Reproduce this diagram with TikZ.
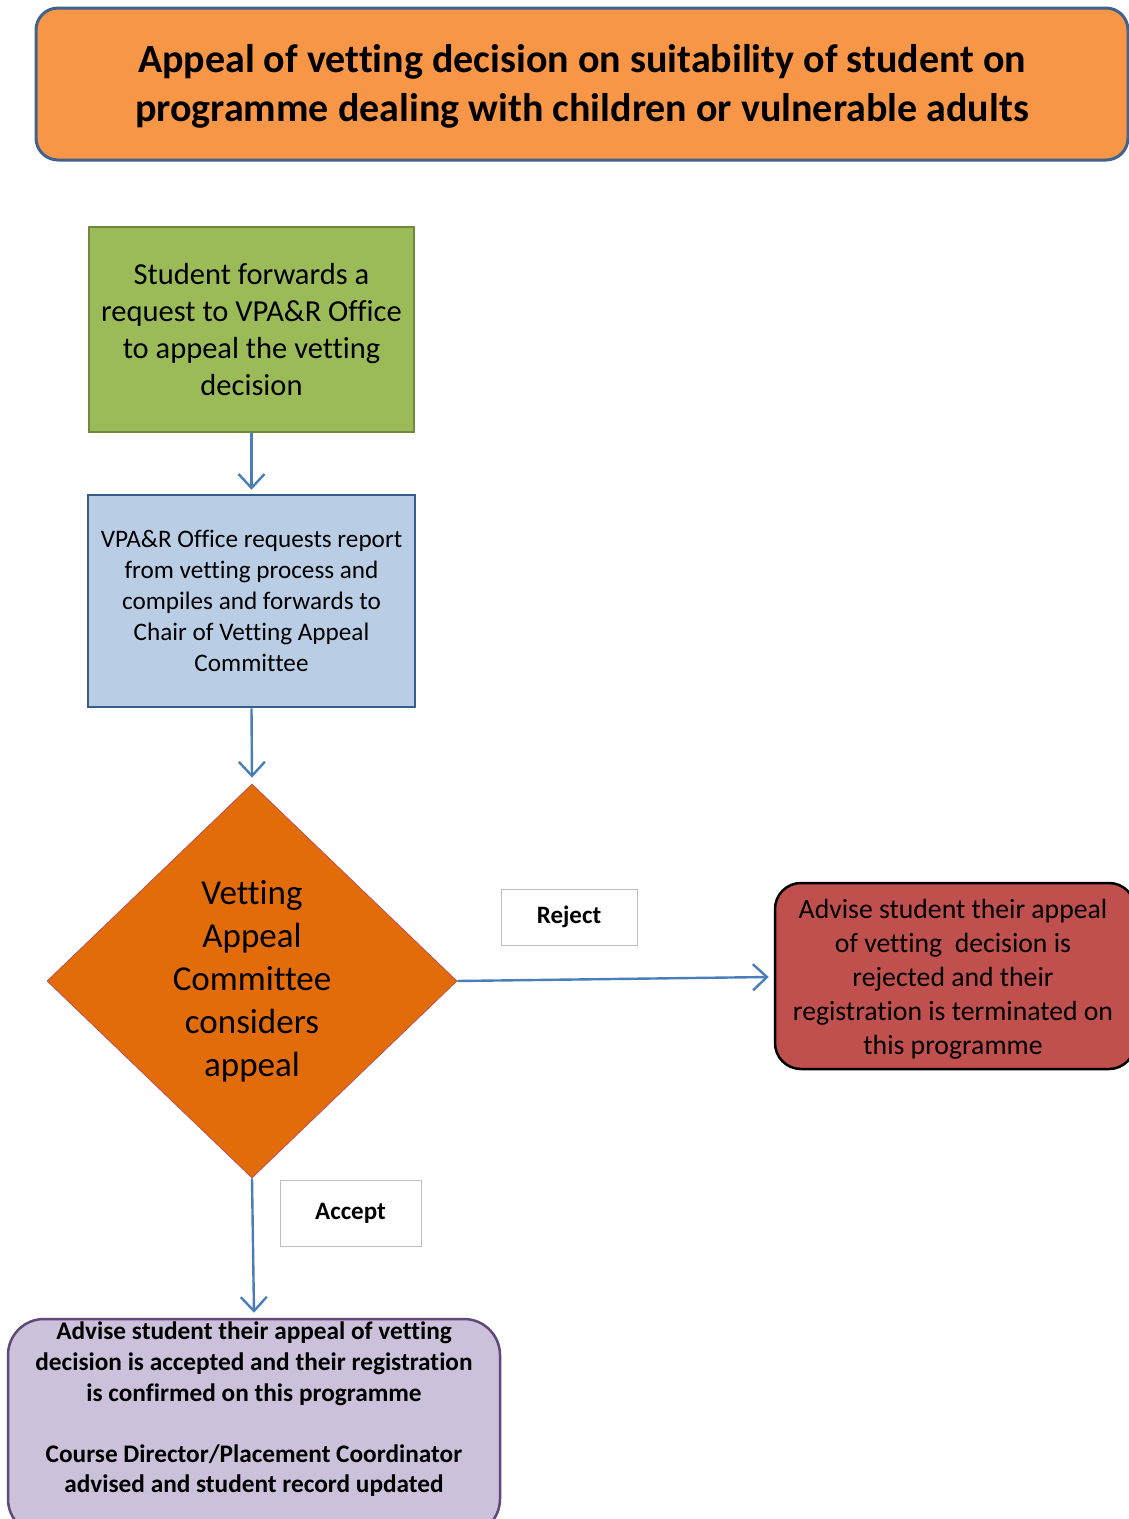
\documentclass[tikz,border=0pt]{standalone}
\usepackage{fontspec}
\setmainfont[Ligatures=NoCommon]{Carlito}
\usetikzlibrary{shapes.geometric,arrows.meta}
\definecolor{titlefill}{HTML}{F79646}
\definecolor{titleline}{HTML}{41628D}
\definecolor{greenfill}{HTML}{9BBB59}
\definecolor{greenline}{HTML}{71893F}
\definecolor{bluefill}{HTML}{B9CDE5}
\definecolor{blueline}{HTML}{385D8A}
\definecolor{diafill}{HTML}{E36C0A}
\definecolor{dialine}{HTML}{C0504D}
\definecolor{redfill}{HTML}{C0504D}
\definecolor{purfill}{HTML}{CCC1DA}
\definecolor{purline}{HTML}{5F497A}
\definecolor{arrowcol}{HTML}{4A7EBB}
\definecolor{labline}{HTML}{BFBFBF}
\tikzset{
  conn/.style={draw=arrowcol, line width=2.4pt, -{Straight Barb[length=14pt,width=26pt]}},
  procbox/.style={rectangle, line width=2.5pt, inner sep=0pt, align=center},
  lab/.style={rectangle, draw=labline, fill=white, line width=1pt, inner sep=0pt, align=center, font=\fontsize{25}{30}\selectfont\bfseries}
}
\begin{document}
\begin{tikzpicture}[x=1pt,y=-1pt]
\useasboundingbox (0,0) rectangle (1129,1519);
% title
\node[procbox, draw=titleline, fill=titlefill, rounded corners=22pt, line width=3pt,
  minimum width=1092pt, minimum height=152pt] (title) at (582,84) {};
\node[align=center, inner sep=0pt, font=\fontsize{40}{49}\selectfont\bfseries] (titletext) at (582,86)
  {Appeal of vetting decision on suitability of student on\\programme dealing with children or vulnerable adults};
% green box
\node[procbox, draw=greenline, fill=greenfill, minimum width=325pt, minimum height=205pt,
  font=\fontsize{30.5}{37}\selectfont] (req) at (251.5,329.5)
  {Student forwards a\\request to VPA\&R Office\\to appeal the vetting\\decision};
% blue box
\node[procbox, draw=blueline, fill=bluefill, minimum width=327pt, minimum height=212pt,
  font=\fontsize{25.2}{31}\selectfont] (vpa) at (251.5,601)
  {VPA\&R Office requests report\\from vetting process and\\compiles and forwards to\\Chair of Vetting Appeal\\Committee};
% diamond
\node[diamond, draw=dialine, fill=diafill, line width=0.8pt, inner sep=0pt, align=center,
  minimum width=410pt, minimum height=394pt, font=\fontsize{35}{43}\selectfont] (dia) at (252,981)
  {Vetting\\Appeal\\Committee\\considers\\appeal};
% red box
\node[procbox, draw=black, fill=redfill, rounded corners=26pt, minimum width=360pt, minimum height=186pt] (rej) at (955,976) {};
\node[align=center, inner sep=0pt, font=\fontsize{27.7}{34}\selectfont] (rejtext) at (953,979)
  {Advise student their appeal\\of vetting\ \ decision is\\rejected and their\\registration is terminated on\\this programme};
% purple box
\node[procbox, draw=purline, fill=purfill, rounded corners=36pt, minimum width=492pt, minimum height=216pt]
  (acc) at (254,1427) {};
\node[align=center, inner sep=0pt, anchor=north, font=\fontsize{25.3}{30.6}\selectfont\bfseries]
  (acctext) at (254,1322)
  {Advise student their appeal of vetting\\decision is accepted and their registration\\is confirmed on this programme\\[30.6pt]Course Director/Placement Coordinator\\advised and student record updated};
% labels
\node[lab, minimum width=136pt, minimum height=56pt] (lrej) at (569,917) {Reject};
\node[lab, minimum width=141pt, minimum height=66pt] (lacc) at (350.5,1213) {Accept};
% connectors
\draw[conn] (req.south) -- ([yshift=4pt]vpa.north);
\draw[conn] (vpa.south) -- ([yshift=6pt]dia.north);
\draw[conn] (dia.east) -- ([xshift=-5pt,yshift=-1pt]rej.west);
\draw[conn] (dia.south) -- ([yshift=5pt]acc.north);
\end{tikzpicture}
\end{document}
